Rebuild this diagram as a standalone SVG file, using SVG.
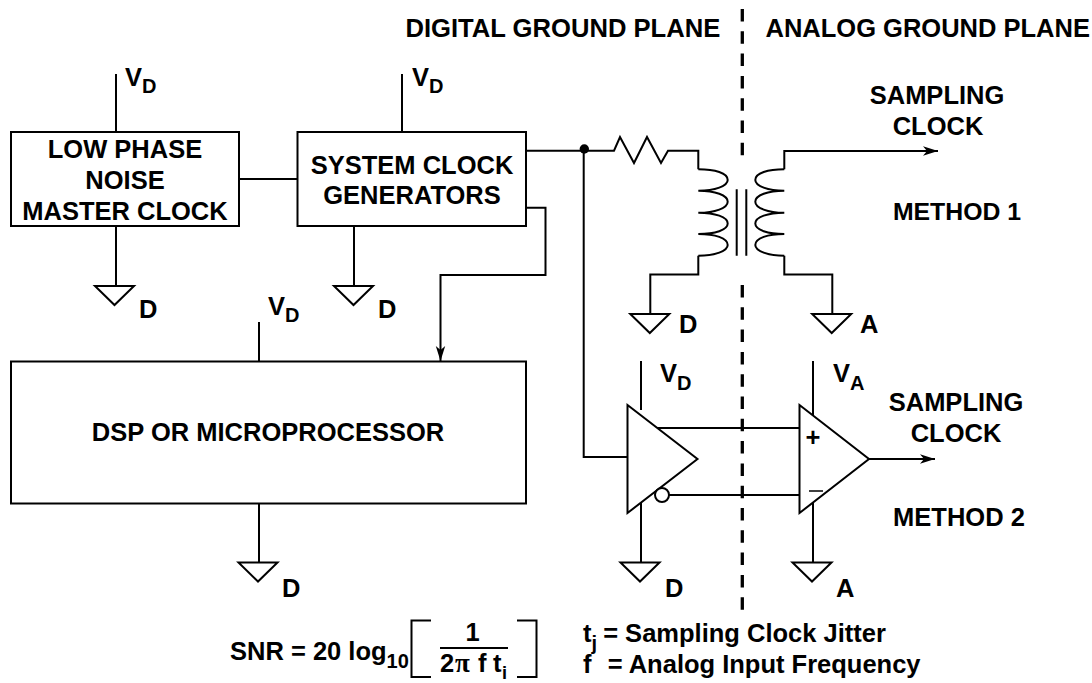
<svg xmlns="http://www.w3.org/2000/svg" width="1092" height="683" viewBox="0 0 1092 683">
<style>
text{font-family:"Liberation Sans",Arial,sans-serif;font-weight:bold;font-size:25.500px;fill:#000}
.m{text-anchor:middle}
.s{font-size:20px}
.w{fill:none;stroke:#000;stroke-width:2}
.b{fill:#fff;stroke:#000;stroke-width:2}
.d{fill:none;stroke:#000;stroke-width:3.300;stroke-dasharray:12.500 9.800}
</style>
<defs>
<path id="gnd" d="M-19.500 0H19.500L0 19Z" fill="#fff" stroke="#000" stroke-width="2"/>
<marker id="arr" markerUnits="userSpaceOnUse" markerWidth="16" markerHeight="12" refX="15" refY="6" orient="auto"><path d="M0 1.300L15 6L0 10.700L4 6Z" fill="#000"/></marker>
</defs>
<g id="connectors">
<path class="w" d="M116 74V132M116 226V286M239 179H298M402 74V132M354 226V286"/>
<path class="w" d="M526 150.700H614L620 137L634 163L647 137L661 163L668 150.700H698.300V169.300"/>
<path class="w" d="M698.300 169.300C715 169.300 727.700 173 727.700 180C727.700 186 715 190.700 698.300 190.700C715 190.700 727.700 195 727.700 201.700C727.700 208 715 212.700 698.300 212.700C715 212.700 727.700 217 727.700 223.500C727.700 230 715 234 698.300 234C715 234 727.700 238 727.700 245C727.700 251 715 255.700 698.300 255.700"/>
<path class="w" d="M698.300 255.700V274.500H650.300V314"/>
<path class="w" d="M736.700 189.300V255.700M746.300 189.300V255.700"/>
<path class="w" d="M784.300 169.300C768 169.300 755.300 173 755.300 180C755.300 186 768 190.700 784.300 190.700C768 190.700 755.300 195 755.300 201.700C755.300 208 768 212.700 784.300 212.700C768 212.700 755.300 217 755.300 223.500C755.300 230 768 234 784.300 234C768 234 755.300 238 755.300 245C755.300 251 768 255.700 784.300 255.700"/>
<path class="w" d="M784.300 255.700V274.500H832.300V314"/>
<path class="w" d="M784.300 169.300V151H938" marker-end="url(#arr)"/>
<path class="w" d="M526 207.700H545.500V275H440.500V361" marker-end="url(#arr)"/>
<path class="w" d="M259 361V322M259 503V562"/>
<path class="w" d="M583.700 150V457H627"/>
<path class="w" d="M641 361V410M641 503V562.500M813 361V415M813 503V562.500"/>
<path class="w" d="M657 428H799M669 495H799"/>
<path class="w" d="M869 459H935" marker-end="url(#arr)"/>
<path class="d" d="M742.300 9V156M742.300 285V610"/>
<circle cx="584.300" cy="149" r="4.700" fill="#000"/>
</g>
<g id="master-clock"><rect class="b" x="11" y="132" width="228" height="94"/><text class="m" x="125" y="158">LOW PHASE</text><text class="m" x="125" y="189">NOISE</text><text class="m" x="125" y="220">MASTER CLOCK</text></g>
<g id="clock-gen"><rect class="b" x="297.500" y="132" width="228.500" height="94"/><text class="m" x="412" y="174">SYSTEM CLOCK</text><text class="m" x="412" y="204">GENERATORS</text></g>
<g id="dsp"><rect class="b" x="11" y="361.500" width="515" height="142"/><text class="m" x="268" y="441">DSP OR MICROPROCESSOR</text></g>
<g id="buffer"><path class="b" d="M627.500 405V513L697.500 459Z"/><circle class="b" cx="662" cy="495" r="7"/></g>
<g id="comparator"><path class="b" d="M799.500 405V513L869 459Z"/><text class="m" x="813" y="445.500">+</text><path d="M809 491H823" stroke="#000" stroke-width="1.500"/></g>
<g id="grounds"><use href="#gnd" x="114.500" y="286"/><use href="#gnd" x="353.500" y="286"/><use href="#gnd" x="258" y="562.500"/><use href="#gnd" x="649.800" y="314"/><use href="#gnd" x="831.700" y="314"/><use href="#gnd" x="640" y="562.500"/><use href="#gnd" x="812" y="562.500"/></g>
<g id="labels">
<text x="405.500" y="37" style="font-size:25.600px">DIGITAL GROUND PLANE</text>
<text x="765.500" y="37">ANALOG GROUND PLANE</text>
<text x="125" y="86">V<tspan class="s" dy="7">D</tspan></text>
<text x="412" y="86">V<tspan class="s" dy="7">D</tspan></text>
<text x="268" y="315">V<tspan class="s" dy="7">D</tspan></text>
<text x="660" y="382">V<tspan class="s" dy="8">D</tspan></text>
<text x="833" y="382">V<tspan class="s" dy="8">A</tspan></text>
<text x="139" y="318">D</text><text x="378" y="318">D</text><text x="282" y="597">D</text><text x="679" y="333">D</text><text x="860" y="333">A</text><text x="665" y="597">D</text><text x="836" y="597">A</text>
<text class="m" x="937" y="104">SAMPLING</text><text class="m" x="938" y="135">CLOCK</text><text class="m" x="957" y="220" style="font-size:24.800px">METHOD 1</text>
<text class="m" x="956" y="410.500">SAMPLING</text><text class="m" x="956" y="441.500">CLOCK</text><text class="m" x="959" y="526">METHOD 2</text>
<text x="230" y="660">SNR = 20 log<tspan class="s" dy="8">10</tspan></text>
<path class="w" d="M431 620.500H411.500V677H431M517 620.500H536.500V677H517"/>
<path class="w" d="M440 648H508"/>
<text class="m" x="472.500" y="641">1</text>
<text x="440" y="672">2<tspan x="455" style="font-family:'Liberation Serif',serif;font-size:27px">π</tspan><tspan x="478">f</tspan><tspan x="493">t</tspan><tspan x="502" dy="7" style="font-size:18px">i</tspan></text>
<text x="583" y="642">t<tspan class="s" dy="8">j</tspan><tspan dy="-8" dx="-1"> = Sampling Clock Jitter</tspan></text>
<text x="583" y="673" xml:space="preserve">f  <tspan dx="2">= Analog Input Frequency</tspan></text>
</g>
</svg>
